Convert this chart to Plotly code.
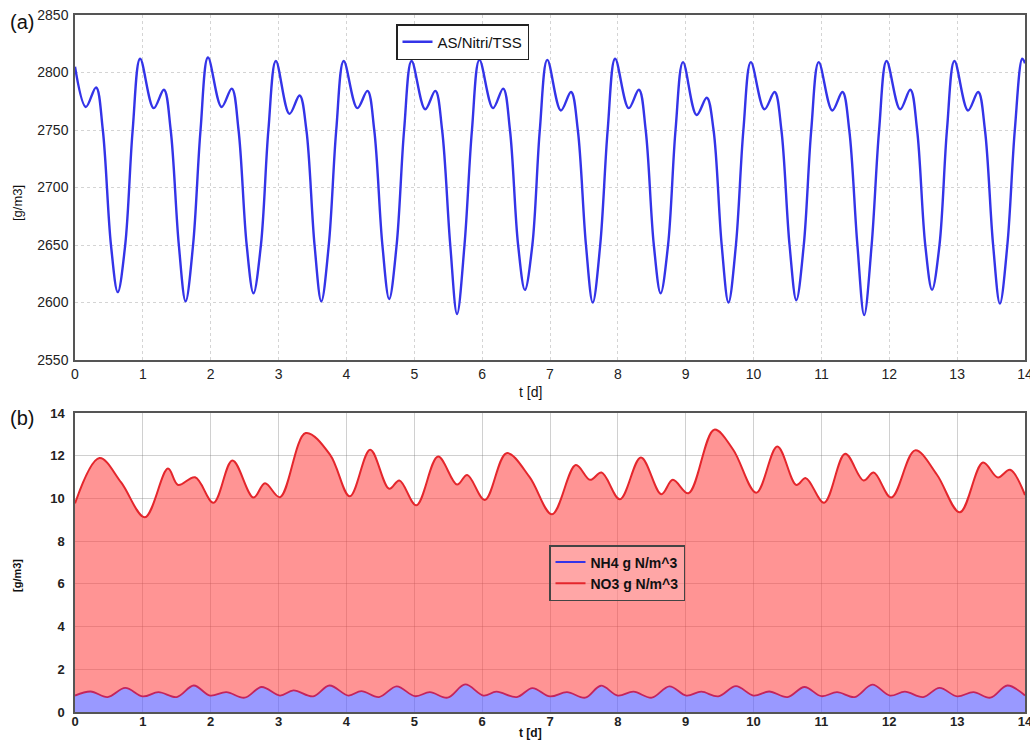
import plotly.graph_objects as go

# ---------------- data ----------------
# Panel (a): TSS, one cycle per day. Feature values per day n = 0..13
TSS_START = 2805          # value at t = 0
TSS_DIP = [2770, 2769, 2770, 2764, 2769, 2768, 2769, 2767, 2769, 2763, 2768, 2767, 2768, 2767]   # at n+0.16
TSS_BUMP = [2787, 2785, 2786, 2780, 2784, 2784, 2786, 2783, 2785, 2778, 2783, 2783, 2785, 2783]  # at n+0.31
TSS_FALL = [2750] * 14    # falling flank at n+0.41
TSS_LOWL = [2650] * 14    # falling flank at n+0.53
TSS_MIN = [2609, 2601, 2608, 2601, 2603, 2590, 2611, 2600, 2608, 2600, 2602, 2589, 2611, 2599]   # at n+0.63
TSS_LOWR = [2650] * 14    # rising flank at n+0.74
TSS_RISE = [2750] * 14    # rising flank at n+0.85
TSS_PEAK = [2812, 2813, 2810, 2810, 2810, 2811, 2811, 2812, 2809, 2809, 2809, 2810, 2810, 2812]  # at n+0.96
TSS_END = 2808            # value at t = 14
FEATURE_T = [0.16, 0.31, 0.41, 0.53, 0.63, 0.74, 0.85, 0.96]

# Panel (b): NO3 (red) and NH4 (blue)
T_NO3 = [0.0, 0.36, 0.68, 1.03, 1.37, 1.52, 1.77, 2.04, 2.32, 2.63, 2.80, 3.02, 3.40, 3.76, 4.05,
         4.35, 4.63, 4.78, 5.03, 5.35, 5.63, 5.78, 6.04, 6.36, 6.70, 7.03, 7.38, 7.59, 7.76, 8.03,
         8.34, 8.64, 8.81, 9.04, 9.42, 9.70, 10.04, 10.35, 10.63, 10.77, 11.04, 11.35, 11.62, 11.77,
         12.03, 12.38, 12.70, 13.04, 13.38, 13.60, 13.78, 14.0]
NO3 = [9.77, 11.89, 10.75, 9.12, 11.40, 10.63, 10.99, 9.80, 11.78, 10.04, 10.71, 10.06, 13.06, 12.04, 10.10,
       12.28, 10.45, 10.84, 9.68, 11.96, 10.65, 11.10, 9.93, 12.12, 11.00, 9.26, 11.56, 10.87, 11.21, 9.96,
       11.92, 10.20, 10.87, 10.24, 13.22, 12.28, 10.27, 12.43, 10.63, 10.95, 9.80, 12.09, 10.84, 11.21,
       10.04, 12.25, 11.12, 9.35, 11.68, 10.98, 11.34, 10.16]

T_NH4 = [0.0, 0.23, 0.48, 0.74, 1.0, 1.23, 1.50, 1.75, 1.99, 2.23, 2.50, 2.75, 3.02, 3.22, 3.51, 3.75,
         4.03, 4.22, 4.48, 4.74, 5.01, 5.23, 5.49, 5.75, 6.02, 6.21, 6.51, 6.74, 7.0, 7.25, 7.52, 7.75,
         8.0, 8.23, 8.50, 8.76, 9.01, 9.23, 9.48, 9.74, 10.0, 10.23, 10.50, 10.75, 11.0, 11.23, 11.49,
         11.75, 12.01, 12.23, 12.50, 12.74, 13.0, 13.24, 13.49, 13.74, 14.0]
NH4 = [0.77, 0.96, 0.70, 1.13, 0.73, 0.93, 0.70, 1.24, 0.77, 0.93, 0.67, 1.17, 0.77, 1.01, 0.73, 1.24,
       0.77, 0.98, 0.70, 1.20, 0.74, 0.93, 0.67, 1.29, 0.77, 0.95, 0.70, 1.12, 0.73, 0.93, 0.67, 1.23,
       0.77, 0.95, 0.67, 1.20, 0.77, 0.95, 0.73, 1.21, 0.77, 0.96, 0.70, 1.17, 0.74, 0.93, 0.70,
       1.28, 0.77, 0.95, 0.70, 1.13, 0.73, 0.93, 0.67, 1.24, 0.77]

X_TICKS = list(range(0, 15))
Y1_TICKS = [2550, 2600, 2650, 2700, 2750, 2800, 2850]
Y2_TICKS = [0, 2, 4, 6, 8, 10, 12, 14]

# assemble the TSS series from the per-day feature lists
t_tss = [0.0]
v_tss = [TSS_START]
for n in range(14):
    vals = [TSS_DIP[n], TSS_BUMP[n], TSS_FALL[n], TSS_LOWL[n], TSS_MIN[n],
            TSS_LOWR[n], TSS_RISE[n], TSS_PEAK[n]]
    for off, v in zip(FEATURE_T, vals):
        t_tss.append(n + off)
        v_tss.append(v)
t_tss.append(14.0)
v_tss.append(TSS_END)

# ---------------- figure ----------------
W, H = 1030, 742
ML, MR, MT, MB = 75, 5, 15, 30
PW, PH = W - ML - MR, H - MT - MB


def px(x):
    return (x - ML) / PW


def py(y):
    return 1 - (y - MT) / PH


FONT = "Liberation Sans, Arial, sans-serif"
BLUE = "rgb(52,52,232)"
RED = "rgb(228,38,44)"

fig = go.Figure()

fig.add_trace(go.Scatter(
    x=t_tss, y=v_tss, mode="lines", name="AS/Nitri/TSS",
    line=dict(color=BLUE, width=2.4, shape="spline", smoothing=1.0),
    xaxis="x", yaxis="y", legend="legend"))

fig.add_trace(go.Scatter(
    x=T_NH4, y=NH4, mode="lines", showlegend=False,
    line=dict(color="rgb(196,36,92)", width=1.8, shape="spline", smoothing=1.0),
    fill="tozeroy", fillcolor="rgba(90,90,255,0.62)",
    xaxis="x2", yaxis="y2"))

fig.add_trace(go.Scatter(
    x=T_NO3, y=NO3, mode="lines", showlegend=False,
    line=dict(color=RED, width=2, shape="spline", smoothing=1.0),
    fill="tonexty", fillcolor="rgba(255,60,60,0.55)",
    xaxis="x2", yaxis="y2"))

# legend entries for panel (b)
fig.add_trace(go.Scatter(x=[None], y=[None], mode="lines", name="NH4 g N/m^3",
                         line=dict(color=BLUE, width=2), xaxis="x2", yaxis="y2", legend="legend2"))
fig.add_trace(go.Scatter(x=[None], y=[None], mode="lines", name="NO3 g N/m^3",
                         line=dict(color=RED, width=2), xaxis="x2", yaxis="y2", legend="legend2"))

axis_common = dict(showline=True, mirror=True, linecolor="#555555", linewidth=1.5,
                   ticks="", zeroline=False, automargin=False, ticklabeloverflow="allow")

ann_common = dict(xref="paper", yref="paper", xanchor="center", yanchor="middle", showarrow=False)

fig.update_layout(
    width=W, height=H,
    margin=dict(l=ML, r=MR, t=MT, b=MB),
    paper_bgcolor="white", plot_bgcolor="white",
    font=dict(family=FONT, color="#222222"),
    xaxis=dict(domain=[0, 1], range=[0, 14], tickvals=X_TICKS, anchor="y",
               showgrid=True, gridcolor="#d4d4d4", griddash="dot", gridwidth=1,
               tickfont=dict(size=14, family=FONT), **axis_common),
    yaxis=dict(domain=[py(360), 1], range=[2550, 2850], tickvals=Y1_TICKS, anchor="x",
               showgrid=True, gridcolor="#d4d4d4", griddash="dot", gridwidth=1,
               tickfont=dict(size=14, family=FONT), ticklabelstandoff=2, **axis_common),
    xaxis2=dict(domain=[0, 1], range=[0, 14], tickvals=X_TICKS, anchor="y2",
                showgrid=True, gridcolor="rgba(120,120,120,0.35)", gridwidth=1,
                tickfont=dict(size=13, family=FONT, weight="bold"), layer="above traces",
                ticklabelstandoff=-3, **axis_common),
    yaxis2=dict(domain=[0, py(413)], range=[0, 14], tickvals=Y2_TICKS, anchor="x2",
                showgrid=True, gridcolor="rgba(120,120,120,0.35)", gridwidth=1,
                tickfont=dict(size=13, family=FONT, weight="bold"), ticklabelstandoff=6,
                layer="above traces", **axis_common),
    legend=dict(x=px(396), y=py(24), xanchor="left", yanchor="top",
                bgcolor="white", bordercolor="#222222", borderwidth=1.5,
                font=dict(size=15, family=FONT, color="#111111")),
    legend2=dict(x=px(549), y=py(545), xanchor="left", yanchor="top",
                 bgcolor="rgba(255,200,200,0.35)", bordercolor="#444444", borderwidth=1.5,
                 font=dict(size=14, family=FONT, color="#111111", weight="bold"),
                 tracegroupgap=0),
    annotations=[
        dict(text="(a)", x=px(22), y=py(22), font=dict(size=20, family=FONT, color="#111111"),
             **ann_common),
        dict(text="(b)", x=px(22), y=py(418), font=dict(size=20, family=FONT, color="#111111"),
             **ann_common),
        dict(text="[g/m3]", x=px(17), y=py(203), textangle=-90,
             font=dict(size=13, family=FONT, color="#111111"), **ann_common),
        dict(text="[g/m3]", x=px(17), y=py(576), textangle=-90,
             font=dict(size=11, family=FONT, color="#111111", weight="bold"), **ann_common),
        dict(text="t [d]", x=px(530), y=py(392),
             font=dict(size=14, family=FONT, color="#111111"), **ann_common),
        dict(text="t [d]", x=px(530), y=py(733),
             font=dict(size=12, family=FONT, color="#111111", weight="bold"), **ann_common),
    ],
)

fig.write_html("out.html",
               config={"displayModeBar": False},
               post_script=["document.body.style.margin='0px';"
                            "document.body.style.overflow='hidden';"])
